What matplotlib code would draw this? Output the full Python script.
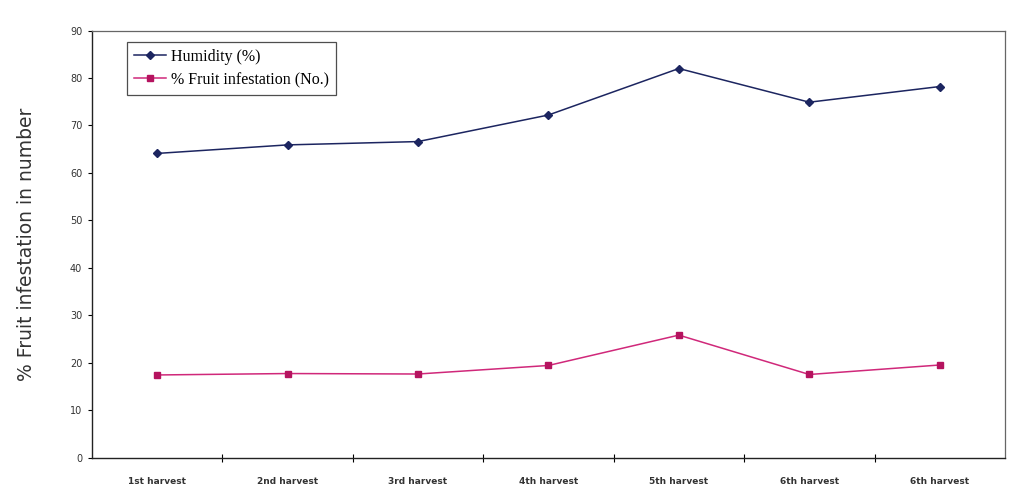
import matplotlib
matplotlib.use('Agg')
import matplotlib.pyplot as plt
import numpy as np

# data
harvests = ['1st harvest', '2nd harvest', '3rd harvest', '4th harvest',
            '5th harvest', '6th harvest', '6th harvest']
humidity = [64.1, 65.9, 66.6, 72.2, 82.0, 74.9, 78.2]
infestation = [17.4, 17.7, 17.6, 19.4, 25.8, 17.5, 19.5]
yticks = [0, 10, 20, 30, 40, 50, 60, 70, 80, 90]

fig = plt.figure(figsize=(10.1, 4.93), dpi=100)
ax = fig.add_axes([0.091, 0.072, 0.904, 0.866])

x = np.arange(len(harvests))
ax.plot(x, humidity, color='#1c2560', lw=1.1, marker='D', ms=4,
        label='Humidity (%)')
ax.plot(x, infestation, color='#d0287a', lw=1.1, marker='s', ms=4.5,
        mfc='#b5135f', mec='#b5135f', label='% Fruit infestation (No.)')

ax.set_xlim(-0.5, len(harvests) - 0.5)
ax.set_ylim(0, 90)
ax.set_yticks(yticks)
ax.set_xticks(x)
ax.set_xticklabels(harvests, fontsize=6.5, fontfamily='Liberation Sans Narrow',
                   fontweight='bold', color='#333333')
ax.set_xticks(np.arange(0.5, len(harvests) - 0.5, 1), minor=True)
ax.tick_params(axis='x', which='major', length=0, pad=14)
ax.tick_params(axis='x', which='minor', direction='inout', length=6, width=0.8)
ax.tick_params(axis='y', direction='out', length=3, width=0.8, labelsize=7,
               labelcolor='#333333', pad=4)

for side in ['left', 'bottom']:
    ax.spines[side].set_linewidth(1.0)
    ax.spines[side].set_color('#222222')
for side in ['top', 'right']:
    ax.spines[side].set_linewidth(0.9)
    ax.spines[side].set_color('#666666')

ax.set_ylabel('% Fruit infestation in number', fontsize=13.5, color='#333333',
              labelpad=24)

leg = ax.legend(loc='upper left', bbox_to_anchor=(0.038, 0.974),
                borderaxespad=0,
                prop={'family': 'Liberation Serif', 'size': 11.5},
                frameon=True, fancybox=False, edgecolor='#222222',
                handlelength=2.0, handletextpad=0.3, borderpad=0.45,
                labelspacing=0.45)
leg.get_frame().set_linewidth(0.9)

plt.savefig('out.png', dpi=100)
